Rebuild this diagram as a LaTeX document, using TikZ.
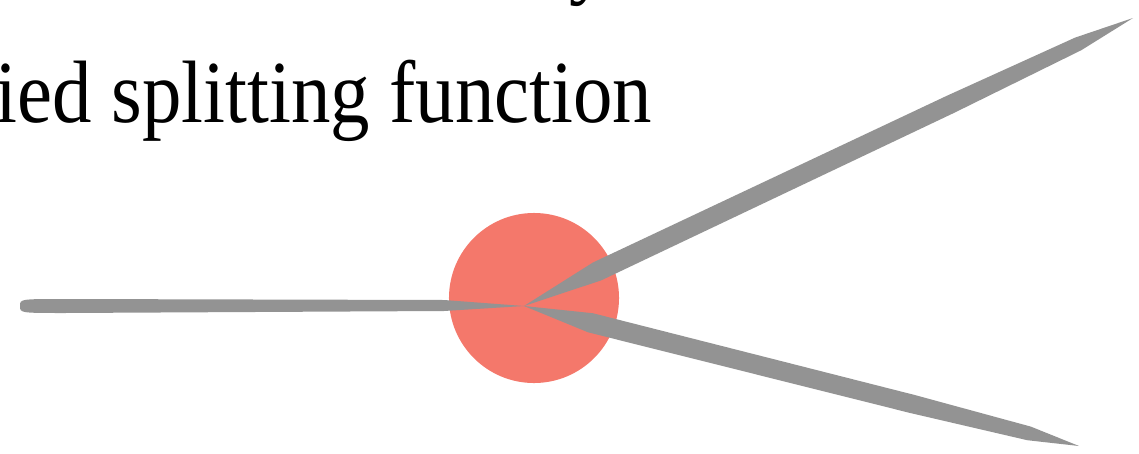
\documentclass[tikz,border=0pt]{standalone}
\usepackage{fontspec}
\setmainfont{Liberation Serif}
\usetikzlibrary{calc}

\newcommand{\narrowtext}[1]{\scalebox{0.89}[1]{#1}}

\begin{document}
\begin{tikzpicture}[
    x=0.025cm, y=-0.025cm,
    caption/.style={font=\fontsize{63}{75}\selectfont, inner sep=0pt, anchor=base west},
    hubDot/.style={circle, fill=coral500, draw=none, minimum size=4.25cm, inner sep=0pt},
    brush/.style={fill=gray500, draw=none}
]

    \definecolor{coral500}{HTML}{F4786B}
    \definecolor{gray500}{HTML}{939393}

    \useasboundingbox (0,0) rectangle (1139,454);

    \node[caption] (topLine) at (569,-13) {\narrowtext{y}};
    \node[caption] (title) at (-5,122) {\narrowtext{ied splitting function}};

    \node[hubDot] (hub) at (534,298) {};

    \coordinate (vertex) at (524,306);
    \coordinate (inEnd) at (20,306);
    \coordinate (outUp) at (1133,18);
    \coordinate (outDown) at (1079,446);

    % incoming leg
    \fill[brush] (inEnd) .. controls ($(inEnd)+(0,-7)$) .. ($(inEnd)+(45,-7)$)
        -- ($(vertex)+(-80,-6)$) -- (vertex) -- ($(vertex)+(-80,5)$)
        -- ($(inEnd)+(45,7)$) .. controls ($(inEnd)+(0,7)$) .. (inEnd) -- cycle;

    % outgoing legs
    \foreach \leg in {outUp, outDown} {
        \coordinate (legA) at ($(vertex)!0.12!(\leg)$);
        \coordinate (legB) at ($(vertex)!0.7!(\leg)$);
        \coordinate (legC) at ($(vertex)!0.91!(\leg)$);
        \fill[brush] (vertex) -- ($(legA)!7pt!90:(\leg)$) -- ($(legB)!6.6pt!90:(\leg)$)
            -- ($(legC)!5pt!90:(\leg)$) -- (\leg) -- ($(legC)!5pt!-90:(\leg)$)
            -- ($(legB)!6.6pt!-90:(\leg)$) -- ($(legA)!7pt!-90:(\leg)$) -- cycle;
    }

\end{tikzpicture}
\end{document}
